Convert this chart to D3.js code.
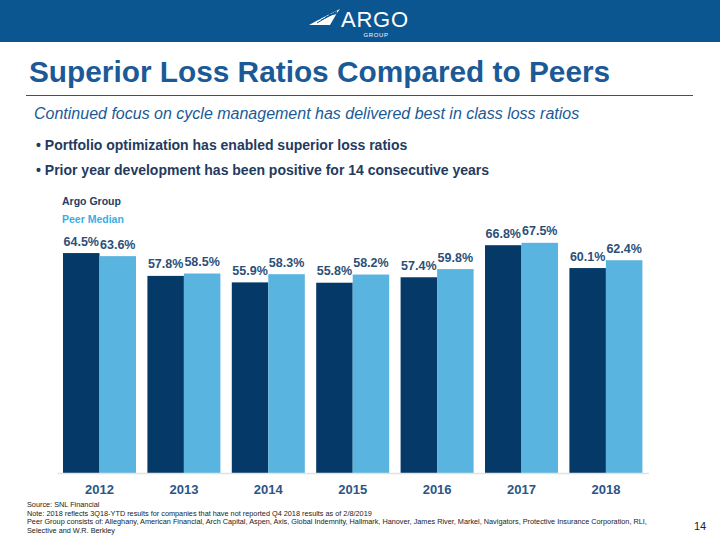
<!DOCTYPE html>
<html><head><meta charset="utf-8">
<script src="https://cdn.jsdelivr.net/npm/d3@7"></script>
<style>html,body{margin:0;padding:0;background:#fff;}svg{display:block;font-family:"Liberation Sans",Arial,sans-serif;}</style>
</head><body>
<svg id="c" width="720" height="540"></svg>
<script>
const years = ["2012","2013","2014","2015","2016","2017","2018"];
const argoGroup = [64.5, 57.8, 55.9, 55.8, 57.4, 66.8, 60.1];
const peerMedian = [63.6, 58.5, 58.3, 58.2, 59.8, 67.5, 62.4];
const seriesNames = ["Argo Group", "Peer Median"];
const bullets = ["Portfolio optimization has enabled superior loss ratios",
                 "Prior year development has been positive for 14 consecutive years"];
const footnotes = ["Source: SNL Financial",
  "Note: 2018 reflects 3Q18-YTD results for companies that have not reported Q4 2018 results as of 2/8/2019",
  "Peer Group consists of: Alleghany, American Financial, Arch Capital, Aspen, Axis, Global Indemnity, Hallmark, Hanover, James River, Markel, Navigators, Protective Insurance Corporation, RLI,",
  "Selective and W.R. Berkley"];

const svg = d3.select("#c");
const DARK = "#053a68", LIGHT = "#5ab4e0", BLUE = "#1b5a96";

// header band
svg.append("rect").attr("x",0).attr("y",0).attr("width",720).attr("height",42).attr("fill","#0b5591");
// logo icon (decorative)
const logo = svg.append("g").attr("fill","#fff");
logo.append("path").attr("d","M309,25 L320,19 L340,9 L337,13 L330,25 Z");
logo.append("path").attr("d","M314,18 L322,15.5 L320,19.5 Z").attr("fill","#0b5591");
[0,1,2,3].forEach(i=>{
  logo.append("line").attr("x1",317+i*4).attr("y1",23-i*2.8).attr("x2",337).attr("y2",11+i*0.9)
    .attr("stroke","#0b5591").attr("stroke-width",1);
});
svg.append("text").attr("x",341).attr("y",26.5).attr("fill","#fff").attr("font-size",22).attr("textLength",67).text("ARGO");
svg.append("text").attr("x",376).attr("y",37).attr("fill","#fff").attr("font-size",6).attr("text-anchor","middle").attr("letter-spacing",0.6).text("GROUP");

// title
svg.append("text").attr("x",29).attr("y",82).attr("fill",BLUE).attr("font-size",29.8).attr("font-weight","bold").text("Superior Loss Ratios Compared to Peers");
svg.append("line").attr("x1",26).attr("x2",693).attr("y1",95.5).attr("y2",95.5).attr("stroke",BLUE).attr("stroke-width",1);
svg.append("text").attr("x",34).attr("y",119).attr("fill",BLUE).attr("font-size",16).attr("font-style","italic").text("Continued focus on cycle management has delivered best in class loss ratios");
bullets.forEach((b,i)=>{
  svg.append("text").attr("x",36).attr("y",150+i*25).attr("fill","#243a5e").attr("font-size",14).attr("font-weight","bold")
    .text("\u2022 " + b);
});

// legend
const legColors = ["#1d3d66", "#3aaee4"];
seriesNames.forEach((s,i)=>{
  svg.append("text").attr("x",62).attr("y",205+i*18).attr("fill",legColors[i]).attr("font-size",10.5).attr("font-weight","bold").text(s);
});

// chart
const x0 = d3.scaleBand().domain(years).range([57, 648.4]).paddingInner(0.135).paddingOuter(0.071);
const x1 = d3.scaleBand().domain(["argo","peer"]).range([0, x0.bandwidth()]);
const y = d3.scaleLinear().domain([0, 80]).range([473, 473 - 80*3.41]);

const data = years.map((yr,i)=>({year:yr, vals:[{k:"argo",v:argoGroup[i]},{k:"peer",v:peerMedian[i]}]}));
const g = svg.append("g");
const grp = g.selectAll("g.yr").data(data).join("g").attr("transform",d=>`translate(${x0(d.year)},0)`);
grp.selectAll("rect").data(d=>d.vals).join("rect")
  .attr("x",d=>x1(d.k)).attr("width",x1.bandwidth())
  .attr("y",d=>y(d.v)).attr("height",d=>y(0)-y(d.v))
  .attr("fill",d=>d.k==="argo"?DARK:LIGHT);
grp.selectAll("text").data(d=>d.vals).join("text")
  .attr("x",d=>x1(d.k)+x1.bandwidth()/2).attr("y",d=>y(d.v)-7.5)
  .attr("text-anchor","middle").attr("font-size",12.5).attr("font-weight","bold").attr("fill","#2c4f78")
  .text(d=>d.v.toFixed(1)+"%");

// axis
const xAxis = d3.axisBottom(x0).tickSize(0).tickPadding(12);
const ax = svg.append("g").attr("transform",`translate(0,${y(0)})`).call(xAxis);
ax.select(".domain").attr("stroke","#e2e2e2").attr("stroke-width",1.5);
ax.selectAll("text").attr("font-size",13).attr("font-weight","bold").attr("fill","#2c5585").attr("font-family","Liberation Sans, Arial, sans-serif");

// footnotes
footnotes.forEach((f,i)=>{
  svg.append("text").attr("x",27).attr("y",507+i*8.7).attr("fill","#222").attr("font-size",7.3).text(f);
});
svg.append("text").attr("x",694).attr("y",530).attr("fill","#222").attr("font-size",11).text("14");
</script>
</body></html>
